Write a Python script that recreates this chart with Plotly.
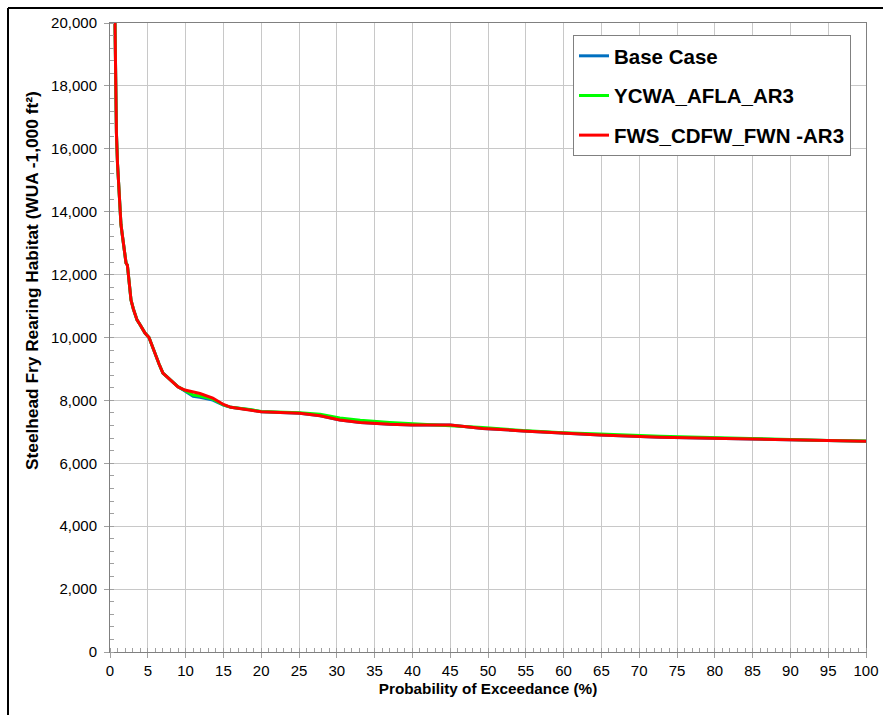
import plotly.graph_objects as go

# Probability of exceedance (%)
x_pct = [0.55, 0.66, 0.73, 0.85, 0.99, 1.1, 1.19, 1.32, 1.45, 1.59, 1.8, 2.12, 2.3, 2.45,
         2.78, 3.1, 3.57, 4.0, 4.63, 5.16, 5.6, 5.95, 6.5, 7.0, 7.5, 7.9, 9.0, 9.9, 11.0,
         11.9, 13.6, 15, 16, 18.5, 20, 25.1, 27.8, 30.4, 33.1, 37, 40, 45, 49.3, 54.6,
         59.9, 64.8, 72.8, 84.7, 90, 95, 100]

fws_cdfw = [22000, 20000, 17600, 16500, 15550, 15000, 14700, 13960, 13600, 13330, 12900,
            12370, 12300, 11930, 11190, 10900, 10560, 10400, 10140, 10000, 9700, 9510, 9150,
            8870, 8760, 8700, 8430, 8330, 8260, 8220, 8075, 7870, 7780, 7700, 7640, 7590,
            7510, 7380, 7300, 7240, 7220, 7215, 7110, 7030, 6955, 6900, 6830, 6770, 6740,
            6720, 6705]

ycwa_afla = [22000, 20000, 17600, 16500, 15550, 15000, 14700, 13960, 13600, 13330, 12900,
             12370, 12300, 11930, 11190, 10900, 10560, 10400, 10140, 10000, 9700, 9510, 9150,
             8870, 8760, 8700, 8430, 8320, 8170, 8140, 8040, 7860, 7780, 7710, 7650, 7610,
             7560, 7440, 7370, 7300, 7260, 7215, 7140, 7040, 6970, 6930, 6860, 6790, 6745,
             6725, 6710]

base_case = [22000, 20000, 17600, 16500, 15550, 15000, 14700, 13960, 13600, 13330, 12900,
             12370, 12300, 11930, 11190, 10900, 10560, 10400, 10140, 10000, 9700, 9510, 9150,
             8870, 8760, 8700, 8430, 8300, 8130, 8100, 8010, 7850, 7780, 7700, 7640, 7590,
             7510, 7380, 7300, 7240, 7220, 7215, 7110, 7030, 6955, 6900, 6830, 6770, 6740,
             6720, 6705]

series = [
    ("Base Case", base_case, "#0070C0"),
    ("YCWA_AFLA_AR3", ycwa_afla, "#00FF00"),
    ("FWS_CDFW_FWN -AR3", fws_cdfw, "#FF0000"),
]

y_title = "Steelhead Fry Rearing Habitat (WUA -1,000 ft²)"
x_title = "Probability of Exceedance (%)"

fig = go.Figure()
for i, (name, ys, col) in enumerate(series):
    fig.add_trace(go.Scatter(x=x_pct, y=ys, name=name, mode="lines",
                             line=dict(color=col, width=3), legendgroup=f"g{i}"))

L, R, T, B = 110, 17, 23, 63
W, H = 883, 715
pw, ph = W - L - R, H - T - B

def px_x(p):
    return (p - L) / pw

def px_y(p):
    return (H - B - p) / ph

font = "Liberation Sans, Arial, sans-serif"
fig.update_layout(
    width=W, height=H,
    margin=dict(l=L, r=R, t=T, b=B, autoexpand=False),
    paper_bgcolor="white", plot_bgcolor="white",
    font=dict(family=font, color="black", size=15),
    showlegend=True,
    legend=dict(x=px_x(573), y=px_y(35), xanchor="left", yanchor="top",
                bordercolor="#808080", borderwidth=1, bgcolor="white",
                font=dict(family=font, size=20.5, color="black", weight="bold"),
                tracegroupgap=10, itemwidth=30),
    shapes=[
        dict(type="line", xref="paper", yref="paper", x0=px_x(8), x1=px_x(W + 5),
             y0=px_y(8), y1=px_y(8), line=dict(color="black", width=2)),
        dict(type="line", xref="paper", yref="paper", x0=px_x(8), x1=px_x(8),
             y0=px_y(8), y1=px_y(H + 5), line=dict(color="black", width=2)),
    ],
    annotations=[
        dict(text=f"<b>{y_title}</b>", xref="paper", yref="paper", x=px_x(32), y=px_y(281),
             xanchor="center", yanchor="middle", textangle=-90, showarrow=False,
             font=dict(size=17.3, family=font, color="black")),
    ],
)
fig.update_xaxes(
    range=[0, 100], dtick=5, tick0=0, automargin=False,
    showgrid=True, gridcolor="#C8C8C8", gridwidth=1,
    showline=True, linecolor="#808080", linewidth=1, mirror=True,
    ticks="outside", ticklen=5, tickcolor="#A0A0A0",
    minor=dict(dtick=1, ticks="inside", ticklen=4, tickcolor="#A0A0A0", showgrid=False),
    tickfont=dict(size=15, family=font),
    title=dict(text=f"<b>{x_title}</b>", font=dict(size=15.3, family=font), standoff=5),
    zeroline=False,
)
fig.update_yaxes(
    range=[0, 20000], dtick=2000, tick0=0, tickformat=",d", automargin=False,
    showgrid=True, gridcolor="#C8C8C8", gridwidth=1,
    showline=True, linecolor="#808080", linewidth=1, mirror=True,
    ticks="outside", ticklen=5, tickcolor="#A0A0A0", ticklabelstandoff=4,
    minor=dict(dtick=400, ticks="inside", ticklen=4, tickcolor="#A0A0A0", showgrid=False),
    tickfont=dict(size=15, family=font),
    zeroline=False,
)

fig.write_html("out.html")
